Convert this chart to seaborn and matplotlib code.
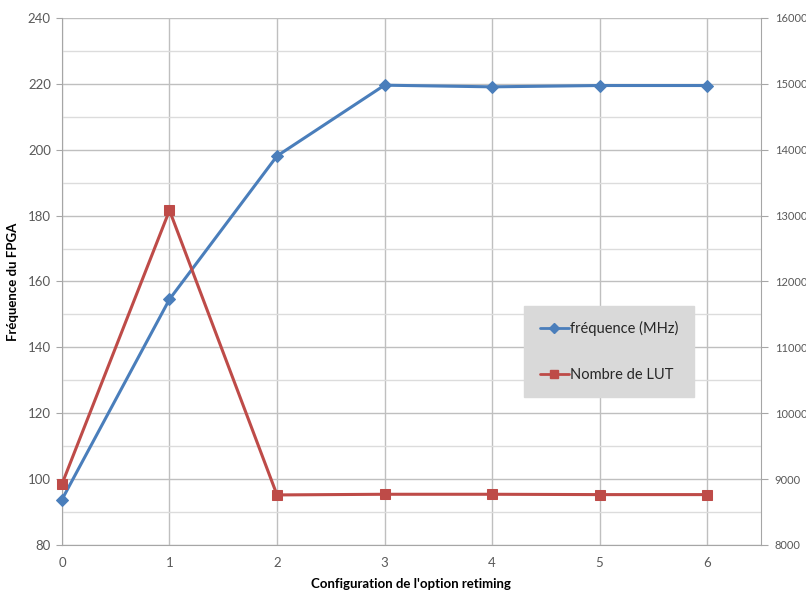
import matplotlib
matplotlib.use("Agg")
import matplotlib.pyplot as plt
import seaborn as sns
import pandas as pd
from matplotlib.ticker import MultipleLocator
from matplotlib.lines import Line2D

config = [0, 1, 2, 3, 4, 5, 6]
frequence = [93.8, 154.6, 198.1, 219.6, 219.1, 219.5, 219.5]
nb_lut = [8925, 13080, 8760, 8770, 8770, 8765, 8765]

xlabel = "Configuration de l'option retiming"
ylabel = "Fréquence du FPGA"
label_freq = "fréquence (MHz)"
label_lut = "Nombre de LUT"

sns.set_style("white")
plt.rcParams['font.family'] = ['Lato', 'DejaVu Sans']

blue = "#4a7ebb"
red = "#be4b48"
tickc = "#595959"

df = pd.DataFrame({"config": config, "freq": frequence, "lut": nb_lut})

fig = plt.figure(figsize=(8.06, 5.92), dpi=100)
ax = fig.add_axes([0.0769, 0.0794, 0.867, 0.8902])
ax2 = ax.twinx()

sns.lineplot(data=df, x="config", y="freq", ax=ax, color=blue, marker="D",
             markersize=6, markeredgecolor=blue, linewidth=2.2, zorder=5, clip_on=False)
sns.lineplot(data=df, x="config", y="lut", ax=ax2, color=red, marker="s",
             markersize=7.5, markeredgecolor=red, linewidth=2.2, zorder=5, clip_on=False)

ax.set_xlim(0, 6.5)
ax.set_ylim(80, 240)
ax2.set_ylim(8000, 16000)
ax.set_xticks(config)
ax.yaxis.set_major_locator(MultipleLocator(20))
ax.yaxis.set_minor_locator(MultipleLocator(10))
ax2.yaxis.set_major_locator(MultipleLocator(1000))

ax.grid(True, which="major", axis="both", color="#bfbfbf", linewidth=1.0)
ax.grid(True, which="minor", axis="y", color="#dcdcdc", linewidth=1.0)
ax.set_axisbelow(True)
ax2.set_zorder(ax.get_zorder() + 1)

for a in (ax, ax2):
    for s in a.spines.values():
        s.set_visible(False)
ax.spines["left"].set_visible(True)
ax.spines["left"].set_color("#a6a6a6")
ax.spines["bottom"].set_visible(True)
ax.spines["bottom"].set_color("#a6a6a6")
ax2.spines["right"].set_visible(True)
ax2.spines["right"].set_color("#a6a6a6")

ax.tick_params(axis="both", which="major", direction="out", length=4, color="#a6a6a6",
               labelcolor=tickc, labelsize=9.5, pad=5)
ax.tick_params(axis="y", which="minor", length=0)
ax.tick_params(axis="y", which="major", pad=4)
ax2.tick_params(axis="y", direction="out", length=5, color="#a6a6a6",
                labelcolor=tickc, labelsize=8, pad=5)

ax.set_xlabel(xlabel, fontsize=9.5, fontweight="bold", color="#000000", labelpad=6)
ax.set_ylabel(ylabel, fontsize=9.5, fontweight="bold", color="#000000", labelpad=6)
ax2.set_ylabel("")

handles = [Line2D([], [], color=blue, marker="D", markersize=5, linewidth=2),
           Line2D([], [], color=red, marker="s", markersize=6, linewidth=2)]
leg = ax2.legend(handles, [label_freq, label_lut], loc="center",
                 bbox_to_anchor=(0.783, 0.367), frameon=True, fancybox=False,
                 facecolor="#d9d9d9", edgecolor="#d9d9d9", framealpha=1,
                 labelspacing=2.2, handlelength=2.0, handletextpad=0.1,
                 borderpad=1.05, fontsize=10.5)
for t in leg.get_texts():
    t.set_color("#262626")
leg.set_zorder(10)

fig.savefig("out.png", dpi=100)
